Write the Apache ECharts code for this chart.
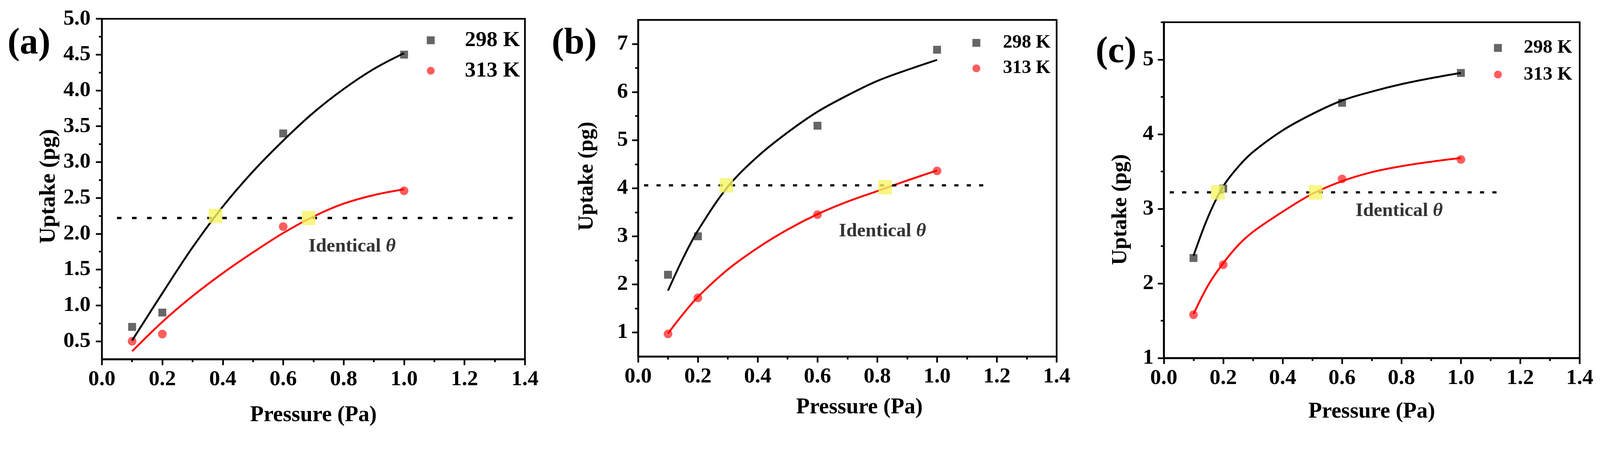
<!DOCTYPE html>
<html>
<head>
<meta charset="utf-8">
<script src="https://cdn.jsdelivr.net/npm/echarts@6/dist/echarts.min.js"></script>
<style>
html,body{margin:0;padding:0;background:#fff;overflow:hidden;}
#chart{width:100vw;height:100vh;}
</style>
</head>
<body>
<div id="chart"></div>
<script>
// measured points (all three panels share the pressures)
var pressure = [0.1, 0.2, 0.6, 1.0];
var a298 = [0.7, 0.9, 3.4, 4.5];
var a313 = [0.5, 0.6, 2.1, 2.6];
var b298 = [2.2, 3.0, 5.3, 6.88];
var b313 = [0.97, 1.72, 3.45, 4.36];
var c298 = [2.34, 3.27, 4.42, 4.82];
var c313 = [1.58, 2.25, 3.40, 3.66];

// fitted curves
var aFitX = [0.1, 0.2, 0.3, 0.4, 0.5, 0.6, 0.7, 0.8, 0.9, 1.0];
var aFit298 = [0.51, 1.17, 1.81, 2.38, 2.87, 3.30, 3.69, 4.02, 4.30, 4.52];
var aFit313 = [0.36, 0.77, 1.13, 1.45, 1.74, 2.01, 2.24, 2.42, 2.54, 2.62];
var bFitX = [0.1, 0.15, 0.2, 0.3, 0.4, 0.5, 0.6, 0.7, 0.8, 0.9, 1.0];
var bFit298 = [1.87, 2.54, 3.12, 4.03, 4.66, 5.16, 5.59, 5.93, 6.23, 6.46, 6.67];
var bFit313 = [0.98, 1.38, 1.74, 2.31, 2.76, 3.14, 3.46, 3.72, 3.94, 4.16, 4.37];
var cFitX = [0.1, 0.15, 0.2, 0.25, 0.3, 0.4, 0.5, 0.6, 0.7, 0.8, 0.9, 1.0];
var cFit298 = [2.37, 2.90, 3.30, 3.56, 3.76, 4.05, 4.27, 4.45, 4.57, 4.67, 4.75, 4.82];
var cFit313 = [1.59, 1.98, 2.27, 2.51, 2.69, 2.96, 3.20, 3.37, 3.49, 3.57, 3.63, 3.68];

// identical coverage level, its dotted line and the two crossings
var thetaLevel = [2.22, 4.06, 3.22];
var thetaLineX = [[0.05, 1.36], [0.02, 1.17], [0.02, 1.12]];
var crossX = [[0.376, 0.684], [0.295, 0.826], [0.182, 0.511]];
var crossY = [[2.25, 2.22], [4.06, 4.02], [3.22, 3.22]];
var noteAt = [[0.683, 1.82], [0.671, 3.10], [0.645, 2.97]];

// y axes
var yRange = [[0.25, 5.0], [0.5, 7.5], [1, 5.5]];
var aYMajor = [0.5, 1.0, 1.5, 2.0, 2.5, 3.0, 3.5, 4.0, 4.5, 5.0];
var aYMinor = [0.75, 1.25, 1.75, 2.25, 2.75, 3.25, 3.75, 4.25, 4.75];
var bYMajor = [1, 2, 3, 4, 5, 6, 7];
var bYMinor = [1.5, 2.5, 3.5, 4.5, 5.5, 6.5];
var cYMajor = [1, 2, 3, 4, 5];
var cYMinor = [1.5, 2.5, 3.5, 4.5, 5.5];
var panelLabels = ['(a)', '(b)', '(c)'];

var FONT = '"Liberation Serif", "Times New Roman", serif';

// everything below is laid out for a 4255 x 1157 page; scale to the real viewport
var S = Math.min(window.innerWidth / 4255, window.innerHeight / 1157);
function px(v) { return v * S; }
function pad(arr) { return arr.map(px); }

function pairs(xs, ys) {
  var out = [];
  for (var i = 0; i < xs.length; i++) out.push([xs[i], ys[i]]);
  return out;
}

var meas = [[a298, a313], [b298, b313], [c298, c313]];
var fits = [[aFitX, aFit298, aFit313], [bFitX, bFit298, bFit313], [cFitX, cFit298, cFit313]];
var yMajor = [aYMajor, bYMajor, cYMajor];
var yMinor = [aYMinor, bYMinor, cYMinor];

// layout of the three panels
var grids = [
  {left: 271, top: 50, width: 1125, height: 905},
  {left: 1697, top: 53, width: 1113, height: 895},
  {left: 3095, top: 59, width: 1106, height: 893}
];
var yNameGap = [111, 107, 86];
var yNamePad = [[0, 0, 0, 14], [0, 0, 0, 64], [0, 104, 0, 0]];
var yNameSize = [60, 57, 58];
var xNameGap = [120, 106, 114];
var xNamePad = [[0, 0, 0, 0], [0, 0, 0, 64], [0, 0, 0, 0]];
var dotPattern = [[12, 28], [11, 22], [11, 22]];
var legendPos = [
  {left: 1135, top: 78, gap: 23, lh: 50, fs: 58, pad: 75},
  {left: 2586, top: 89, gap: 18, lh: 44, fs: 50, pad: 55},
  {left: 3973, top: 102, gap: 20, lh: 45, fs: 51, pad: 53}
];
var letterPos = [[77, 117], [1527, 117], [2968, 140]];

var xAxes = [], yAxes = [], series = [], legends = [], graphics = [];
var black = {color: '#000', width: px(4.5)};

for (var i = 0; i < 3; i++) {
  xAxes.push({
    gridIndex: i, type: 'value', min: 0, max: 1.4, interval: 0.2,
    axisLine: {lineStyle: black},
    axisTick: {show: true, inside: false, length: px(16), lineStyle: black},
    minorTick: {show: true, splitNumber: 2, length: px(8), lineStyle: black},
    splitLine: {show: false}, minorSplitLine: {show: false},
    axisLabel: {
      margin: px(25), fontSize: px(58), fontWeight: 'bold', fontFamily: FONT, color: '#000',
      showMinLabel: true, showMaxLabel: true,
      formatter: function (v) { return v.toFixed(1); }
    },
    name: 'Pressure (Pa)', nameLocation: 'middle', nameGap: px(xNameGap[i]),
    nameTextStyle: {fontSize: px(59), fontWeight: 'bold', fontFamily: FONT, color: '#000', padding: pad(xNamePad[i])}
  });
  yAxes.push({
    gridIndex: i, type: 'value', position: 'left', min: yRange[i][0], max: yRange[i][1],
    axisLine: {show: true, lineStyle: black},
    axisTick: {show: true, inside: false, length: px(16), customValues: yMajor[i], lineStyle: black},
    splitLine: {show: false},
    axisLabel: {
      margin: px(i === 0 ? 30 : 27), fontSize: px(58), fontWeight: 'bold', fontFamily: FONT, color: '#000',
      customValues: yMajor[i],
      formatter: i === 0 ? function (v) { return v.toFixed(1); } : function (v) { return String(v); }
    },
    name: 'Uptake (pg)', nameLocation: 'middle', nameGap: px(yNameGap[i]), nameRotate: 90,
    nameTextStyle: {fontSize: px(yNameSize[i]), fontWeight: 'bold', fontFamily: FONT, color: '#000', padding: pad(yNamePad[i])}
  });
  // second left axis that only carries the short minor ticks
  yAxes.push({
    gridIndex: i, type: 'value', position: 'left', offset: 0, min: yRange[i][0], max: yRange[i][1],
    axisLine: {show: false},
    axisTick: {show: true, inside: false, length: px(8), customValues: yMinor[i], lineStyle: black},
    axisLabel: {show: false},
    splitLine: {show: false}
  });

  var yi = 2 * i;
  series.push({
    type: 'scatter', name: '298 K', xAxisIndex: i, yAxisIndex: yi,
    data: pairs(pressure, meas[i][0]), symbol: 'rect', symbolSize: px(21),
    itemStyle: {color: '#404040'}, z: 2
  });
  series.push({
    type: 'scatter', name: '313 K', xAxisIndex: i, yAxisIndex: yi,
    data: pairs(pressure, meas[i][1]), symbol: 'circle', symbolSize: px(23),
    itemStyle: {color: '#ff3434'}, z: 2
  });
  series.push({
    type: 'line', name: 'fit 298', xAxisIndex: i, yAxisIndex: yi,
    data: pairs(fits[i][0], fits[i][1]), smooth: 0.35, symbol: 'none',
    lineStyle: {color: '#000', width: px(5)}, z: 3, silent: true
  });
  series.push({
    type: 'line', name: 'fit 313', xAxisIndex: i, yAxisIndex: yi,
    data: pairs(fits[i][0], fits[i][2]), smooth: 0.35, symbol: 'none',
    lineStyle: {color: '#ff0000', width: px(5)}, z: 3, silent: true
  });
  series.push({
    type: 'line', name: 'theta', xAxisIndex: i, yAxisIndex: yi,
    data: pairs(thetaLineX[i], [thetaLevel[i], thetaLevel[i]]), symbol: 'none',
    lineStyle: {color: '#000', width: px(6), type: pad(dotPattern[i])}, z: 4, silent: true
  });
  series.push({
    type: 'scatter', name: 'cross', xAxisIndex: i, yAxisIndex: yi,
    data: pairs(crossX[i], crossY[i]), symbol: 'rect', symbolSize: [px(36), px(38)],
    itemStyle: {color: '#f6f564'}, z: 5, silent: true
  });
  series.push({
    type: 'scatter', name: 'note', xAxisIndex: i, yAxisIndex: yi,
    data: [noteAt[i]], symbolSize: 1, itemStyle: {color: 'rgba(0,0,0,0)'}, silent: true, z: 6,
    label: {
      show: true, position: 'right', distance: 0,
      formatter: '{t|Identical }{th|θ}',
      rich: {
        t: {fontSize: px(51), fontWeight: 'bold', fontFamily: FONT, color: '#000'},
        th: {fontSize: px(51), fontWeight: 'bold', fontStyle: 'italic', fontFamily: FONT, color: '#000'}
      }
    }
  });

  var lp = legendPos[i];
  legends.push({
    orient: 'vertical', left: px(lp.left), top: px(lp.top), padding: 0, itemGap: px(lp.gap),
    itemWidth: px(21), itemHeight: px(21), selectedMode: false,
    data: [{name: '298 K', icon: 'rect'}, {name: '313 K', icon: 'circle'}],
    textStyle: {fontSize: px(lp.fs), fontWeight: 'bold', fontFamily: FONT, color: '#000', lineHeight: px(lp.lh), padding: [0, 0, 0, px(lp.pad)]}
  });

  graphics.push({
    type: 'text', x: px(letterPos[i][0]), y: px(letterPos[i][1]),
    style: {text: panelLabels[i], fontSize: px(98), fontWeight: 'bold', fontFamily: FONT, fill: '#000', align: 'center', verticalAlign: 'middle'}
  });
}

var chart = echarts.init(document.getElementById('chart'));
chart.setOption({
  backgroundColor: '#fff',
  animation: false,
  grid: grids.map(function (g) {
    return {left: px(g.left), top: px(g.top), width: px(g.width), height: px(g.height), show: true, borderColor: '#000', borderWidth: px(4.5)};
  }),
  xAxis: xAxes,
  yAxis: yAxes,
  legend: legends,
  graphic: graphics,
  series: series
});
</script>
</body>
</html>
